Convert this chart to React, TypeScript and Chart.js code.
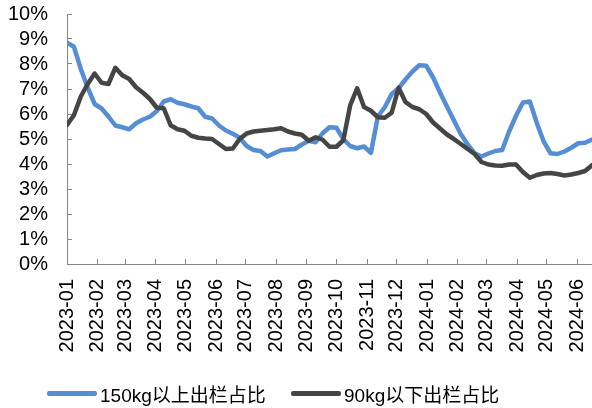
import { useEffect, useRef } from "react";
import { Chart, registerables } from "chart.js";

Chart.register(...registerables);

// Month tick labels on the x axis
const monthLabels = [
  "2023-01", "2023-02", "2023-03", "2023-04", "2023-05", "2023-06",
  "2023-07", "2023-08", "2023-09", "2023-10", "2023-11", "2023-12",
  "2024-01", "2024-02", "2024-03", "2024-04", "2024-05", "2024-06",
];
const startDate = "2023-01-01";
const weekStepDays = 7;
const axisEndDay = 532;

const seriesNames = ["150kg以上出栏占比", "90kg以下出栏占比"];

// weekly share (%) of hogs sold above 150kg
const heavyShare = [
  8.85, 8.69, 7.8, 7.05, 6.4, 6.22, 5.9, 5.54, 5.47, 5.39,
  5.63, 5.78, 5.89, 6.12, 6.5, 6.59, 6.45, 6.39, 6.3, 6.23,
  5.89, 5.82, 5.54, 5.34, 5.21, 5.05, 4.72, 4.56, 4.52, 4.3,
  4.43, 4.55, 4.58, 4.6, 4.78, 4.93, 4.87, 5.23, 5.47, 5.45,
  5.0, 4.72, 4.63, 4.7, 4.45, 5.9, 6.27, 6.8, 7.03, 7.38,
  7.7, 7.95, 7.93, 7.46, 6.86, 6.3, 5.75, 5.2, 4.78, 4.43,
  4.3, 4.42, 4.52, 4.56, 5.3, 5.93, 6.46, 6.5, 5.65, 4.9,
  4.43, 4.4, 4.5, 4.65, 4.83, 4.85, 4.98,
];

// weekly share (%) of hogs sold below 90kg
const lightShare = [
  5.56, 5.95, 6.7, 7.2, 7.62, 7.25, 7.2, 7.85, 7.55, 7.4,
  7.07, 6.85, 6.6, 6.25, 6.23, 5.55, 5.39, 5.33, 5.13, 5.05,
  5.02, 5.0, 4.8, 4.6, 4.62, 5.0, 5.22, 5.3, 5.33, 5.36,
  5.39, 5.43, 5.3, 5.22, 5.17, 4.93, 5.07, 4.97, 4.69, 4.69,
  4.95, 6.35, 7.03, 6.28, 6.13, 5.87, 5.85, 6.05, 7.05, 6.48,
  6.28, 6.19, 6.0, 5.66, 5.42, 5.18, 5.0, 4.8, 4.6, 4.4,
  4.08, 3.98, 3.94, 3.93, 3.98, 3.98, 3.68, 3.45, 3.56, 3.62,
  3.64, 3.6, 3.54, 3.58, 3.64, 3.72, 3.95,
];

const yMin = 0;
const yMax = 10;
const yStep = 1;

const BLUE = "#558ED5";
const GRAY = "#454545";
const AXIS = "#868686";
const FONT = "'Liberation Sans', Arial, 'Noto Sans CJK SC', sans-serif";

const dayOf = (label: string) => {
  const ms = Date.parse(label + "-01T00:00:00Z") - Date.parse(startDate + "T00:00:00Z");
  return Math.round(ms / 86400000);
};

export default function App() {
  const ref = useRef<HTMLCanvasElement | null>(null);

  useEffect(() => {
    if (!ref.current) return;
    const monthDays = monthLabels.map(dayOf);
    const toPoints = (arr: number[]) => arr.map((v, i) => ({ x: i * weekStepDays, y: v }));
    const chart = new Chart(ref.current, {
      type: "line",
      data: {
        datasets: [
          {
            label: seriesNames[0],
            data: toPoints(heavyShare),
            borderColor: BLUE,
            backgroundColor: BLUE,
            order: 1,
          },
          {
            label: seriesNames[1],
            data: toPoints(lightShare),
            borderColor: GRAY,
            backgroundColor: GRAY,
            order: 0,
          },
        ],
      },
      options: {
        animation: false,
        responsive: false,
        maintainAspectRatio: false,
        devicePixelRatio: 1,
        layout: { padding: { top: 14, left: 0, right: 0, bottom: 0 } },
        plugins: { legend: { display: false }, tooltip: { enabled: false } },
        elements: {
          point: { radius: 0 },
          line: { borderWidth: 4.5, tension: 0, borderJoinStyle: "round", borderCapStyle: "round" },
        },
        scales: {
          x: {
            type: "linear",
            min: 0,
            max: axisEndDay,
            afterBuildTicks: (s: any) => {
              s.ticks = monthDays.map((v) => ({ value: v }));
            },
            afterFit: (s: any) => {
              s.height = 144;
              s.paddingLeft = 0;
              s.paddingRight = 0;
            },
            grid: { display: true, drawOnChartArea: false, drawTicks: true, tickLength: -5, color: AXIS },
            border: { display: true, color: AXIS, width: 1 },
            ticks: {
              autoSkip: false,
              minRotation: 90,
              maxRotation: 90,
              padding: 20,
              color: "#000",
              font: { size: 20, family: FONT },
              callback: (_v: any, i: number) => monthLabels[i],
            },
          },
          y: {
            min: yMin,
            max: yMax,
            afterFit: (s: any) => {
              s.width = 67;
              s.paddingTop = 0;
              s.paddingBottom = 0;
            },
            grid: { display: true, drawOnChartArea: false, drawTicks: true, tickLength: -5, color: AXIS },
            border: { display: true, color: AXIS, width: 1 },
            ticks: {
              autoSkip: false,
              stepSize: yStep,
              padding: 24,
              color: "#000",
              font: { size: 20, family: FONT },
              callback: (v: any) => v + "%",
            },
          },
        },
      },
    } as any);
    return () => chart.destroy();
  }, []);

  const legendItem = (name: string, color: string, left: number) => (
    <div
      style={{
        position: "absolute",
        left,
        top: 381,
        height: 24,
        display: "flex",
        alignItems: "center",
        fontFamily: FONT,
        fontSize: 19,
        color: "#000",
        whiteSpace: "nowrap",
      }}
    >
      <span style={{ display: "inline-block", width: 50, height: 5, background: color, borderRadius: 2, marginRight: 3 }} />
      <span>{name}</span>
    </div>
  );

  return (
    <div style={{ position: "fixed", left: 0, top: 0, width: 592, height: 408, background: "#fff" }}>
      <canvas ref={ref} width={592} height={408} style={{ position: "absolute", left: 0, top: 0, width: 592, height: 408 }} />
      {legendItem(seriesNames[0], BLUE, 47)}
      {legendItem(seriesNames[1], GRAY, 291)}
    </div>
  );
}
